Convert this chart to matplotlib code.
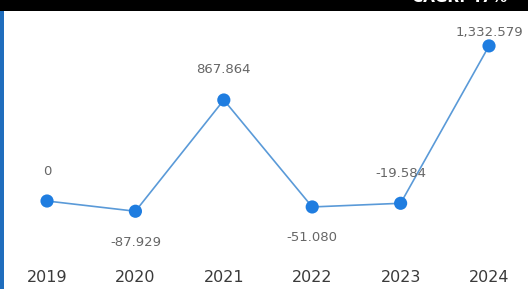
import matplotlib
matplotlib.use("Agg")
import matplotlib.pyplot as plt
from matplotlib.patches import Rectangle
import matplotlib.transforms as mtransforms

years = ["2019", "2020", "2021", "2022", "2023", "2024"]
values = [0, -87.929, 867.864, -51.080, -19.584, 1332.579]
labels = ["0", "-87.929", "867.864", "-51.080", "-19.584", "1,332.579"]
label_above = [True, False, True, False, True, True]

W, H = 528, 289
fig = plt.figure(figsize=(W / 100, H / 100), dpi=100)
fig.patch.set_facecolor("white")
ax = fig.add_axes([0, 0, 1, 1])
ax.set_facecolor("white")
ax.set_axis_off()

x = list(range(len(years)))
ax.set_xlim(-0.532, 5.441)
ax.set_ylim(-756, 1727)

ax.plot(x, values, color="#5a9ad8", linewidth=1.2, zorder=2)
ax.scatter(x, values, s=90, color="#1f7de0", zorder=3, edgecolors="none")

for xi, v, lab, above in zip(x, values, labels, label_above):
    if xi == 5:
        off = 13
    else:
        off = 30 if above else -31
    ax.annotate(lab, (xi, v), xytext=(0, off), textcoords="offset pixels",
                ha="center", va="center", fontsize=9.5, color="#666666")

trans = mtransforms.blended_transform_factory(ax.transData, ax.transAxes)
for xi, y in zip(x, years):
    ax.text(xi, 1 - 277 / H, y, transform=trans, ha="center", va="center",
            fontsize=11.5, color="#3a3a3a")

# header band (cropped)
fig.patches.append(Rectangle((0, 1 - 11 / H), 1, 11 / H, transform=fig.transFigure,
                             facecolor="black", edgecolor="none", zorder=5))
fig.text(0.96, 1 + 2.5 / H, "CAGR: 47%", ha="right", va="center", color="white",
         fontsize=11, fontweight="bold", zorder=6)
# left border
fig.patches.append(Rectangle((0, 0), 4 / W, 1 - 11 / H, transform=fig.transFigure,
                             facecolor="#1f6dbd", edgecolor="none", zorder=5))

fig.savefig("out.png", dpi=100)
